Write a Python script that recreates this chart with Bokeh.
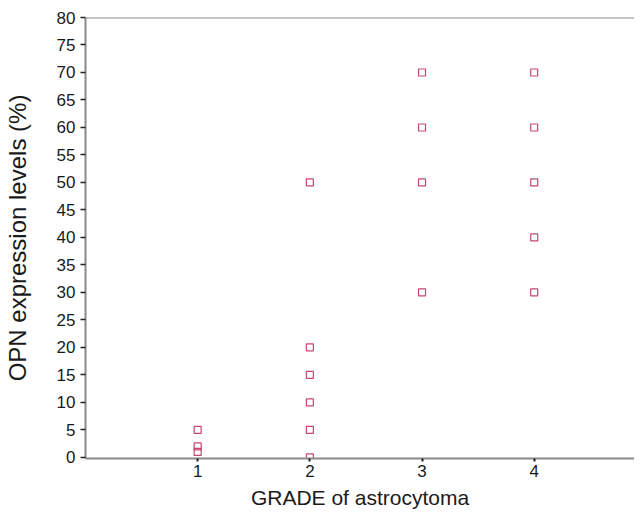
from bokeh.plotting import figure
from bokeh.models import Range1d, FixedTicker, Span
from bokeh.embed import file_html
from bokeh.resources import INLINE

# Data
grade = [1, 1, 1, 2, 2, 2, 2, 2, 2, 3, 3, 3, 3, 4, 4, 4, 4, 4]
opn_level = [5, 2, 1, 50, 20, 15, 10, 5, 0, 70, 60, 50, 30, 70, 60, 50, 40, 30]
x_ticks = [1, 2, 3, 4]
y_ticks = list(range(0, 81, 5))
x_title = "GRADE of astrocytoma"
y_title = "OPN expression levels (%)"

FONT = "Liberation Sans"
AXIS_GRAY = "#8a8a8a"

p = figure(
    width=634, height=514,
    x_range=Range1d(0, 4.894), y_range=Range1d(-0.2, 80),
    output_backend="svg", toolbar_location=None,
    min_border_left=81, min_border_right=0, min_border_top=17, min_border_bottom=56,
)
p.background_fill_color = "white"
p.border_fill_color = "white"
p.outline_line_color = None
p.xgrid.visible = False
p.ygrid.visible = False

p.scatter(grade, opn_level, marker="square", size=7,
          line_color="#c8466e", fill_color=None, line_width=1.2)

# top border line
p.add_layout(Span(location=y_ticks[-1], dimension="width",
                  line_color=AXIS_GRAY, line_width=2))

for ax in (p.xaxis, p.yaxis):
    ax.axis_line_color = AXIS_GRAY
    ax.axis_line_width = 2
    ax.major_tick_line_color = "#222222"
    ax.minor_tick_line_color = None
    ax.major_tick_in = 0
    ax.major_label_text_font = FONT
    ax.major_label_text_font_size = "17px"
    ax.major_label_text_color = "#1a1a1a"
    ax.axis_label_text_font = FONT
    ax.axis_label_text_font_style = "normal"
    ax.axis_label_text_color = "#1a1a1a"

p.xaxis.ticker = FixedTicker(ticks=x_ticks)
p.xaxis.major_tick_out = 3
p.xaxis.major_tick_line_width = 2
p.xaxis.major_label_standoff = 3
p.xaxis.axis_label = x_title
p.xaxis.axis_label_text_font_size = "21px"
p.xaxis.axis_label_standoff = 6

p.yaxis.ticker = FixedTicker(ticks=y_ticks)
p.yaxis.major_tick_out = 5
p.yaxis.major_tick_line_width = 1.5
p.yaxis.major_label_standoff = 5
p.yaxis.axis_label = y_title
p.yaxis.axis_label_text_font_size = "24px"
p.yaxis.axis_label_standoff = 23

open("out.html", "w").write(file_html(p, INLINE))
